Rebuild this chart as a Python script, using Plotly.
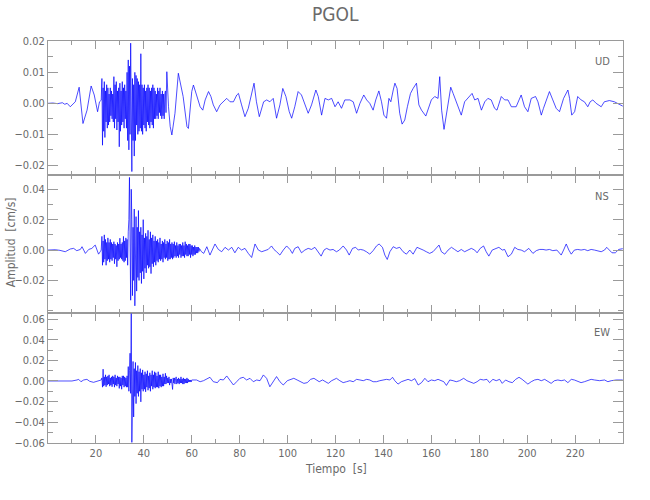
import plotly.graph_objects as go
from plotly.subplots import make_subplots

# Amplitudes in units of 1e-3 cm/s
SCALE = 1e-3
BURST_DT = 0.25
BURST_T0 = 22.5

# ---------------- UD ----------------
ud_pre = [(0, 0), (2, 0.1), (4, -0.1), (6, 0.2), (7, -0.3), (8, 0), (9.3, -1.1), (11.4, 0.5),
          (13, 5.2), (14.6, -6.5), (16.3, -2.2), (18, 5.6), (19.3, 2.7), (20.7, -2.7),
          (21.5, 0.5), (22.2, 1.0)]
ud_burst = [8, -13.5, 5, -9, 7, -11, 4, -6, 6, -8, 5,
            -7, 3, -6, 5, -4, 4, -5, 3, -6, 8.6, -8, 6, -5, 7, -8.6, 4, -6, 5, -14,
            6.5, -9, 4, -7, 7, -6, 5, -8, 6, -5, 4, -8,
            10, -12, 14, -15, 12, -10, 19.4,
            -18, -22, 8, -12, 6, -17, 10,
            -12, 9, -7, 8, -10, 7, -9, 6, -8, 16,
            -9, 6, -10, 5, -7, 6, -8, 4, -9, 5, -6, 6, -7, 5, -8, 4, -6, 5, -7, 6, -8, 5,
            -5, 4, -5, 3, -4, 5, -5, 4, -3, 5, -4, 3, -5, 4, -4, 3, -5, 3, 4, -3, 3]
ud_coda = [(49.6, 10.2), (50.3, -1.1), (51, -7.5), (51.7, -10.2), (53, -3.2), (54.4, 9.7),
           (55, 7.5), (56.4, 2.2), (58, -7.5), (58.6, -8.1), (60, 3.8), (60.7, 5.9), (62, 2.7),
           (63.5, -1.1), (64.6, -2.2), (65.6, 1.1), (67, 3.8), (68, 2.2), (69, -0.5), (70.4, -2.7),
           (71.8, -0.5), (73.2, 0.5), (74.6, 1.6), (76, 0.5), (77.4, 0.5), (78.8, 2.7), (79.5, 3.2),
           (80.8, -0.5), (82.2, -4.3), (83.6, -1.6), (85, 3.2), (86, 6.5), (87, 0.5), (88.2, -4.3),
           (90, 0.5), (91.3, 1.1), (92.6, 0.5), (94, 1.6), (95.4, -4.8), (96.8, -0.5), (98, 4.8),
           (99.3, 2.2), (100.7, -2.7), (101.7, -4.8), (103, -1.1), (104.4, 3.8), (105.8, 2.7),
           (107.2, -0.5), (108.6, -3.2), (110, -0.5), (111.8, 4.3), (112.8, 2.2), (114.2, -3.8),
           (115.6, 1.6), (117, 1.1), (118.4, 1.6), (119.8, -1.1), (121.1, 0.5), (122.5, -1.6),
           (123.9, 1.1), (126, 1.1), (127.4, 0.5), (128.8, -3.2), (130.2, 0), (131.8, 2.7),
           (133, 1.1), (134.3, 0), (135.7, -2.2), (136.8, 1.1), (138.1, 4.0), (139.2, 0.5),
           (140.2, -3.8), (141.3, -4.8), (142.3, 1.6), (143.1, 0.5), (144.1, 4.3), (144.8, 6.5),
           (145.7, 4.8), (146.8, -3.2), (147.8, -6.7), (148.9, -5.4), (150, -1.1), (151.3, 3.2),
           (152.4, 4.8), (153.8, 6.5), (154.8, -0.5), (155.9, -2.2), (157.7, -4.1), (159.1, -1.1),
           (160, 1.1), (161.4, 2.2), (162.8, 1.6), (163.5, 8.6), (164.3, -2.2), (165.3, -8.4),
           (166.3, -3.2), (167.3, 2.2), (168.1, 5.2), (169.1, 3.2), (170.4, 0.5), (171.6, -2.2),
           (172.5, -3.8), (173.9, 0.5), (175.3, 1.6), (177, 3.2), (178.1, 1.1), (179.5, 1.6),
           (180.9, -2.2), (182.3, 0.5), (183.6, 1.6), (185, 1.1), (186.4, -1.6), (187.4, -2.2),
           (189.2, 2.2), (190.6, 1.1), (192, 1.1), (193.4, -1.1), (195.4, -1.1), (196.8, 1.1),
           (197.5, 2.7), (198.9, -1.1), (200.3, -2.7), (201.7, 1.6), (203.5, 2.2), (204.5, 0.5),
           (205.9, -3.8), (206.8, -1.6), (207.9, 1.1), (209.3, 3.8), (210.7, 1.1), (212.1, -1.6),
           (213.5, -2.7), (215.2, 1.6), (217, 4.3), (217.7, 1.6), (218.6, -3.8), (219.8, -2.7),
           (221.1, 2.2), (222.5, 1.1), (223.9, 0.5), (225.3, -1.1), (226.3, 0.5), (227.4, 1.1),
           (228.8, 0), (230.9, -1.1), (232.2, 0.5), (234.3, 0.9), (236.4, 0.5), (237.8, 0),
           (239.9, -0.9)]

# ---------------- NS ----------------
ns_pre = [(0, 0), (3, 0.2), (5, -0.2), (7.2, -1.1), (9.3, 0.7), (10.7, 1.1), (12, -0.4),
          (13.5, 0.4), (14.2, 2.2), (15.6, -2.2), (17, 0.4), (18.3, 1.1), (19.7, 3.3),
          (21.1, -2.7), (21.8, -1.1), (22.2, 0)]
ns_burst = [9, -10, 6, -8, 10, -6, 7, -10, 5, -7, 8, -6, 5, -8, 7,
            -6, 5, -7, 4, -5, 5.5, -9, 4, -6, 3, -11, 5, -7, 4, -6, 7.8, -5, 4, -6, 5, -7, 9,
            -8, 6, -7, 8, -5, 7, -10, 12,
            20, 47.8, -25, -33, 40, 20,
            -30, 15, -20, 27, -36.7, 18, 22,
            -27, 15, -18, 26, -20, 12, -15, 15, -22, 10, -14, 20,
            -19, 8, -12, 11, -15, 9, -10, 13, -12, 7, -11, 12, -15.5, 8, -9, 10, -11, 6, -8, 9,
            -10, 6, -7, 7, -8, 5, -6, 8, -7, 4, -6, 6, -8, 5, -5, 7, -6, 4, -5, 6, -7, 5, -6,
            7, -6, 4, -5, 5, -6, 4,
            -5, 5.5, -4, 3, -5, 5, -4, 3, -5, 4, -3, 4, -5, 3, -4, 5, -4, 3, -5, 5.5, -3, 4,
            -4, 3, -4, 4, -3, 4, -5, 3, -3, 3, -4, 2, -3, 3, -3, 2, -2, 2, -2, 2, -1, 1]
ns_coda = [(64, -1), (65, -2.2), (66.3, 2.2), (67.6, -3.3), (69.7, 4.0), (71.1, 0.4), (72.5, -1.1),
           (73.9, 1.8), (75.3, 0), (76.7, 1.8), (78, -1.8), (79.4, 1.8), (80.8, 0), (82.2, 1.1),
           (83.6, -2.2), (85, -4.9), (86.4, 4.0), (87.8, 0), (89.2, -1.1), (90.6, -0.4), (91.9, 0.4),
           (93.3, 2.7), (94.3, 0.4), (95.4, -1.1), (96.8, -3.3), (98.2, 0), (99.6, 2.7), (101, 0.4),
           (102, -2.2), (103, 1.1), (104.4, 2.2), (105.8, -1.8), (107.2, 0), (108.6, 1.1),
           (110, 0.4), (111.4, 1.8), (112.8, -1.1), (114, -4.0), (115.2, 0), (116.3, 1.1),
           (117.7, 0), (119, 0.4), (120.4, -1.1), (121.6, 0), (123.2, 2.7), (124.6, 0),
           (125.7, -3.3), (127.1, 1.1), (128.4, 1.8), (129.5, 0), (130.4, 0.4), (131.6, 0),
           (132.9, -1.1), (134.3, -2.7), (135.7, -0.4), (137.1, 2.7), (138.2, 4.0), (139.6, 1.8),
           (140.6, -3.3), (141.6, -6.2), (142.7, -1.1), (144.1, 2.2), (145.4, 1.1), (146.8, 1.8),
           (148.2, -1.1), (149.6, -2.7), (151, 0), (152.4, -2.7), (154, 1.8), (155.2, 1.1),
           (156.6, 0), (157.9, -1.1), (159.3, -2.2), (160.7, -1.1), (162.1, 1.1), (163.2, 3.3),
           (164.2, -1.1), (165.6, -2.7), (167, 0), (168.4, 1.8), (169.7, 0.4), (171.1, -1.1),
           (172.5, 0.4), (173.9, -1.1), (175.3, 0), (176.7, 1.1), (178.1, 0), (179.1, -1.8),
           (180.4, 1.1), (181.8, 2.7), (182.9, -1.1), (184, -4.0), (185.4, 0), (186.8, 1.1),
           (188.2, 1.8), (189.6, 0), (190.6, 0.4), (192, -4.4), (193.4, -2.7), (194.8, 1.8),
           (196.1, 0.4), (197.5, 0), (198.9, -1.1), (200.7, 1.1), (202.4, -2.2), (203.8, -0.4),
           (205.2, 0.4), (206.6, 0.4), (207.9, 0), (209.3, 0.4), (210.7, -0.4), (212.4, 0),
           (214.2, -3.3), (215.2, 0), (216.3, 4.0), (217.4, 0), (218.4, -2.7), (219.7, 0),
           (221.1, 0.4), (222.5, 0), (223.9, 0.4), (225.3, -0.4), (226.7, 0.4), (228.1, 0),
           (229.5, -0.4), (230.9, -1.1), (232.3, 0), (233.2, 1.8), (234.3, 0), (235.4, -1.8),
           (236.8, -1.8), (238.2, 0.4), (239.9, 0.9)]

# ---------------- EW ----------------
ew_pre = [(0, 0), (4, 0), (8, 0.2), (10, 0), (12.1, 1.0), (12.8, 1.6), (13.75, -0.7), (14.9, 1.0),
          (16.25, 1.6), (17.4, -0.3), (19, -1.3), (20.4, -0.3), (21.8, 0.3), (22.2, 1.0)]
ew_burst = [3, -6, 11.5, -5, 4, -4, 6,
            -5.6, 4, -4, 5, -3, 6, -5, 3, -4, 4, -5.6, 5, -3, 4, -6, 6, -4, 3, -5, 5, -3, 4,
            -7.2, 4, -5, 3, -8, 5, -4, 5, -6, 4, -5, 3, -6, 5,
            -6, 14, -10, 10, 27, -12, 65.5,
            -59.7, -20, 19, -35, 12, -15, 18,
            -22, 10, -12, 15, -15, 9, -10, 12, -20.3, 8, -8, 10.8,
            -10, 6, -8, 9, -10.5, 7, -6, 10, -9, 5, -7, 8, -10, 6, -5, 10, -8, 6, -6, 9, -7,
            8, -6, 5, -6, 9, -7, 6, -5, 6, -6, 4, -5, 7, -5, 4, -3, 7.5,
            -3, 5, -2, 3, -2, 4, -4, 2, -2, 2, -3, -8.2, 3, -2, 3, -3, 2, 4, -3, 2, -2, 3,
            -3, 2, -2, 4, -2, 2, -3, 3, -3, 2, -2, 2, -2, 3, -2, 2, -1, 1, -1, 1, -1, 1]
ew_coda = [(62, 1.0), (63.5, -0.7), (64.9, 0.3), (66.25, 1.6), (67.6, 3.6), (69, -0.7),
           (70.7, -1.6), (71.8, 1.6), (73.2, 1.0), (74.6, 4.9), (76, 1.0), (77.4, -3.9),
           (78.75, -0.7), (80.1, 2.6), (81.5, 3.6), (82.9, 1.0), (84.3, 2.6), (85.7, -0.7),
           (87.1, 1.0), (88.5, 0.3), (89.9, 5.9), (91.25, 2.6), (92.6, -5.6), (94, -0.7),
           (95.4, 4.3), (96.8, -0.7), (98.2, -3.9), (99.9, 0.3), (101.25, 1.6), (102.6, 2.6),
           (104, 1.0), (105.4, -0.7), (106.8, -2.3), (108.2, -1.6), (109.6, 1.6), (111, 2.6),
           (112.1, 1.0), (113.2, -0.7), (114.6, 1.0), (115.6, -0.7), (117, -2.3), (118.4, 0.3),
           (120.4, 2.6), (121.8, 0.3), (123.2, -1.6), (124.6, -0.7), (126, 0.3), (127.4, -0.7),
           (128.8, 1.6), (130.2, 1.0), (131.6, 0.3), (133, 1.6), (134.3, 1.0), (135.7, -0.7),
           (137.1, -0.7), (138.5, 0.3), (139.9, 1.0), (141.3, 1.6), (142.7, 1.0), (143.8, 3.6),
           (144.75, 0.3), (146.1, -3.0), (147.5, -0.7), (148.9, 0.3), (150.3, 1.6), (151.7, 0.3),
           (153.1, 2.3), (154.5, -3.9), (155.9, -1.6), (157.3, 2.6), (158.6, -0.7), (160, 1.0),
           (161.4, 0.3), (162.8, 1.6), (164.2, 0.3), (165.2, -0.7), (166.3, -4.3), (167.7, 1.0),
           (169.1, 0.3), (170.4, -0.7), (171.8, 0.3), (173.5, 2.6), (174.9, 0.3), (176.3, -0.7),
           (177.7, -2.3), (179.1, -0.7), (180.4, 1.6), (181.8, 1.0), (183.2, 1.6), (184.3, -1.6),
           (185.7, 1.6), (187.1, 0.3), (188.5, 1.6), (189.6, -2.3), (191, 1.0), (192.4, -0.7),
           (193.8, -1.6), (195.2, 1.6), (196.6, 3.6), (197.9, 1.6), (199.3, -1.6), (200.3, -3.0),
           (201.7, -0.7), (203.1, 1.0), (204.5, 1.6), (205.9, 0.3), (207.3, 1.6), (208.6, -0.7),
           (210, -2.3), (211.4, 0.3), (212.8, 1.0), (214.2, 0.3), (215.6, 1.0), (217, -1.6),
           (218.4, 1.6), (219.7, 1.0), (221.1, -0.7), (222.5, -1.6), (223.9, -0.7), (225.3, 0.3),
           (226.7, 1.6), (228.1, 1.0), (230.2, 0.3), (232.3, 1.0), (233.7, -0.7), (235.1, 0.3),
           (237.2, 1.0), (239.9, 1.0)]

components = ["UD", "NS", "EW"]
x_tickvals = [20, 40, 60, 80, 100, 120, 140, 160, 180, 200, 220]
y_tickvals = {
    "UD": [-0.02, -0.01, 0.0, 0.01, 0.02],
    "NS": [-0.02, 0.0, 0.02, 0.04],
    "EW": [-0.06, -0.04, -0.02, 0.0, 0.02, 0.04, 0.06],
}
y_minor = {"UD": 0.005, "NS": 0.01, "EW": 0.01}
y_ranges = {"UD": [-0.0231, 0.0201], "NS": [-0.0411, 0.0494], "EW": [-0.0603, 0.0666]}
domains = {"UD": [0.6667, 1.0], "NS": [0.3246, 0.6667], "EW": [0.0, 0.3246]}


def assemble(pre, burst, coda):
    pts = list(pre)
    pts += [(BURST_T0 + i * BURST_DT, v) for i, v in enumerate(burst)]
    pts += list(coda)
    pts.sort(key=lambda p: p[0])
    return [p[0] for p in pts], [p[1] * SCALE for p in pts]


series = {
    "UD": assemble(ud_pre, ud_burst, ud_coda),
    "NS": assemble(ns_pre, ns_burst, ns_coda),
    "EW": assemble(ew_pre, ew_burst, ew_coda),
}

FONT = "Liberation Sans Narrow, DejaVu Sans Condensed, Arial Narrow, Liberation Sans, sans-serif"
AXC = "#9a9a9a"
TXT = "#6a6a6a"

fig = make_subplots(rows=3, cols=1, shared_xaxes=True, vertical_spacing=0)
for i, comp in enumerate(components, start=1):
    t, v = series[comp]
    fig.add_trace(go.Scatter(x=t, y=v, mode="lines",
                             line=dict(color="#0000ff", width=0.7),
                             showlegend=False, hoverinfo="skip"), row=i, col=1)
    fig.update_yaxes(row=i, col=1, domain=domains[comp], range=y_ranges[comp],
                     tickmode="array", tickvals=y_tickvals[comp], tickformat=".2f",
                     ticks="inside", ticklen=10, tickwidth=1, tickcolor=AXC,
                     showline=True, linecolor=AXC, linewidth=1, mirror="allticks",
                     showgrid=False, zeroline=False, automargin=False,
                     tickfont=dict(family=FONT, size=11, color=TXT),
                     minor=dict(ticks="inside", ticklen=5, tickcolor=AXC, dtick=y_minor[comp],
                                tick0=0, showgrid=False))
    fig.update_xaxes(row=i, col=1, range=[0, 240], tickmode="array", tickvals=x_tickvals,
                     showticklabels=(i == 3), automargin=False,
                     ticks="inside", ticklen=8, tickwidth=1, tickcolor=AXC,
                     showline=True, linecolor=AXC, linewidth=1, mirror="allticks",
                     showgrid=False, zeroline=False,
                     tickfont=dict(family=FONT, size=11, color=TXT),
                     minor=dict(ticks="inside", ticklen=4, tickcolor=AXC, dtick=10, tick0=0,
                                showgrid=False))

annotations = [
    dict(text="PGOL", x=0.5, y=1.067, xref="paper", yref="paper", showarrow=False,
         font=dict(family=FONT, size=19, color=TXT), xanchor="center", yanchor="middle"),
    dict(text="Amplitud  [cm/s]", x=-0.064, y=0.5, xref="paper", yref="paper", showarrow=False,
         textangle=-90, font=dict(family=FONT, size=12, color=TXT),
         xanchor="center", yanchor="middle"),
    dict(text="Tiempo  [s]", x=0.5, y=-0.065, xref="paper", yref="paper", showarrow=False,
         font=dict(family=FONT, size=12, color=TXT), xanchor="center", yanchor="middle"),
]
label_y = {"UD": 0.948, "NS": 0.614, "EW": 0.276}
for comp in components:
    annotations.append(dict(text=comp, x=0.9635, y=label_y[comp], xref="paper", yref="paper",
                            showarrow=False, font=dict(family=FONT, size=11, color=TXT),
                            xanchor="center", yanchor="middle"))

fig.update_layout(width=650, height=500, margin=dict(l=48, r=27, t=41, b=57),
                  paper_bgcolor="white", plot_bgcolor="white", annotations=annotations)

# Remove the default page margin so the figure sits at the window's top-left corner,
# and hide the interactive toolbar.
fig.write_html("out.html", config={"displayModeBar": False},
               post_script="document.body.style.margin='0';")
